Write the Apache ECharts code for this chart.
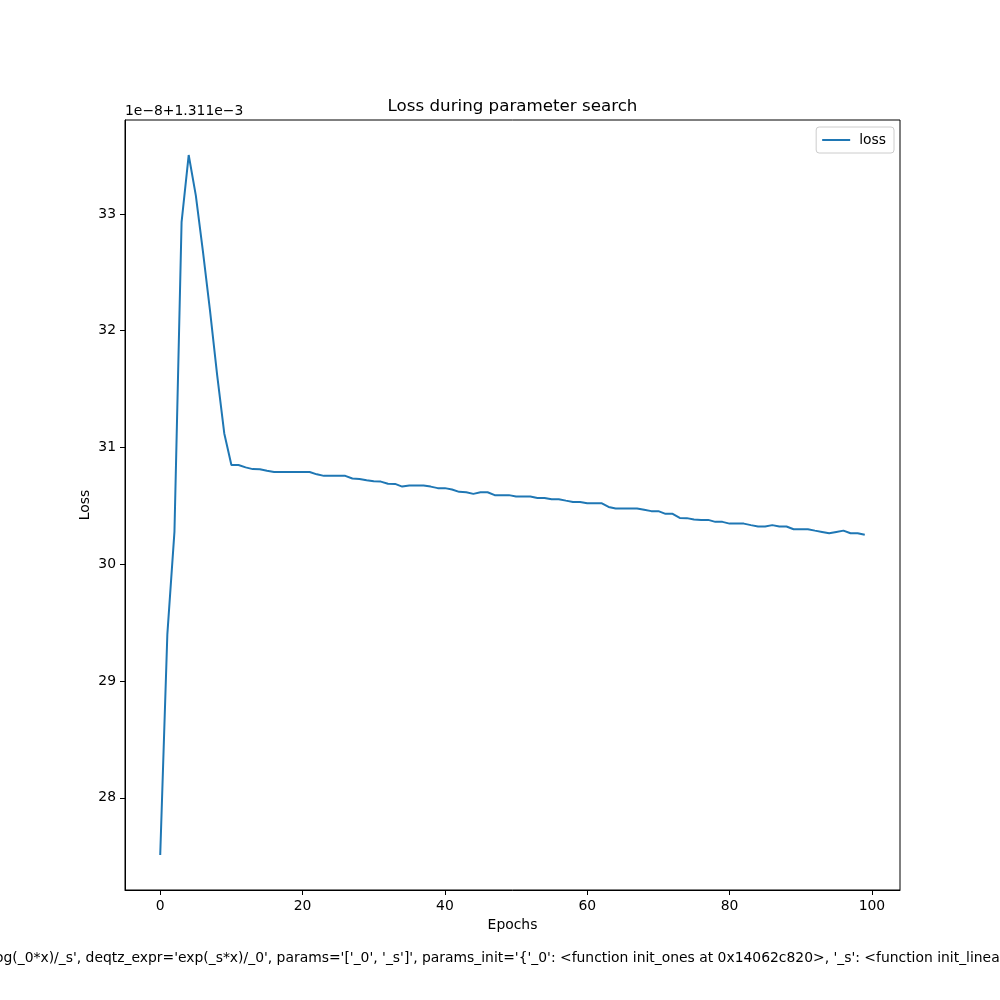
<!DOCTYPE html>
<html>
<head>
<meta charset="utf-8">
<script src="https://cdn.jsdelivr.net/npm/echarts@6/dist/echarts.min.js"></script>
<style>html,body{margin:0;padding:0;background:#fff}#c{width:1000px;height:1000px}</style>
</head>
<body>
<div id="c"></div>
<script>
// Loss values, shown as offset: value = 1.311e-3 + v * 1e-8
const lossValues = [
  27.51, 29.40, 30.28, 32.93, 33.505, 33.16, 32.68, 32.17, 31.62, 31.12,
  30.85, 30.85, 30.83, 30.815, 30.813, 30.80, 30.79, 30.79, 30.79, 30.79,
  30.79, 30.79, 30.77, 30.757, 30.757, 30.757, 30.757, 30.734, 30.731, 30.72,
  30.71, 30.708, 30.69, 30.688, 30.665, 30.675, 30.675, 30.675, 30.665, 30.652,
  30.652, 30.64, 30.62, 30.617, 30.603, 30.617, 30.617, 30.592, 30.592, 30.592,
  30.58, 30.58, 30.58, 30.568, 30.568, 30.557, 30.557, 30.545, 30.534, 30.534,
  30.523, 30.523, 30.523, 30.491, 30.477, 30.477, 30.477, 30.477, 30.466, 30.455,
  30.455, 30.432, 30.432, 30.397, 30.395, 30.383, 30.38, 30.38, 30.363, 30.363,
  30.348, 30.348, 30.348, 30.335, 30.323, 30.323, 30.335, 30.323, 30.323, 30.30,
  30.30, 30.30, 30.288, 30.277, 30.266, 30.277, 30.288, 30.266, 30.266, 30.252
];
const xTicks = [0, 20, 40, 60, 80, 100];
const yTicks = [28, 29, 30, 31, 32, 33];
const titleText = 'Loss during parameter search';
const offsetText = '1e\u22128+1.311e\u22123';
const xName = 'Epochs';
const yName = 'Loss';
const seriesName = 'loss';
const footerText = "og(_0*x)/_s', deqtz_expr='exp(_s*x)/_0', params='['_0', '_s']', params_init='{'_0': <function init_ones at 0x14062c820>, '_s': <function init_linear at 0x14062c8b0>}')";

const FONT = 'DejaVu Sans';
const chart = echarts.init(document.getElementById('c'), null, {renderer: 'canvas'});
const data = lossValues.map((v, i) => [i, v]);

chart.setOption({
  animation: false,
  backgroundColor: '#fff',
  textStyle: {fontFamily: FONT},
  grid: {left: 125, top: 120, width: 775, height: 770, show: true, borderColor: '#000', borderWidth: 1, backgroundColor: 'transparent'},
  legend: {
    right: 106, top: 127,
    data: [seriesName],
    icon: 'rect', itemWidth: 28, itemHeight: 2, itemGap: 10,
    padding: [6, 8, 6, 6],
    borderColor: '#cccccc', borderWidth: 1, borderRadius: 3,
    backgroundColor: 'rgba(255,255,255,0.8)',
    textStyle: {fontFamily: FONT, fontSize: 13.9, color: '#000', padding: [0, 0, 0, 4]}
  },
  xAxis: {
    type: 'value', min: -4.95, max: 103.95,
    axisLine: {show: true, onZero: false, lineStyle: {color: '#000', width: 1}},
    axisTick: {show: true, inside: false, length: 5, lineStyle: {color: '#000'}, customValues: xTicks},
    axisLabel: {show: true, margin: 9, fontSize: 13.9, color: '#000', fontFamily: FONT, customValues: xTicks},
    splitLine: {show: false}
  },
  yAxis: {
    type: 'value', min: 27.21, max: 33.805,
    axisLine: {show: true, onZero: false, lineStyle: {color: '#000', width: 1}},
    axisTick: {show: true, inside: false, length: 5, lineStyle: {color: '#000'}, customValues: yTicks},
    axisLabel: {show: true, margin: 9, fontSize: 13.9, color: '#000', fontFamily: FONT, customValues: yTicks},
    splitLine: {show: false}
  },
  series: [{
    name: seriesName, type: 'line', data: data,
    showSymbol: false, symbol: 'none',
    lineStyle: {color: '#1f77b4', width: 2},
    itemStyle: {color: '#1f77b4'}
  }],
  graphic: [
    {type: 'text', x: 512.5, y: 106.5, style: {text: titleText, font: '16.7px "DejaVu Sans"', fill: '#000', align: 'center', verticalAlign: 'middle'}},
    {type: 'text', x: 125, y: 111.5, style: {text: offsetText, font: '13.9px "DejaVu Sans"', fill: '#000', align: 'left', verticalAlign: 'middle'}},
    {type: 'text', x: 512.5, y: 925, style: {text: xName, font: '13.9px "DejaVu Sans"', fill: '#000', align: 'center', verticalAlign: 'middle'}},
    {type: 'text', x: 85, y: 505, rotation: Math.PI / 2, style: {text: yName, font: '13.9px "DejaVu Sans"', fill: '#000', align: 'center', verticalAlign: 'middle'}},
    {type: 'text', x: -5, y: 958, style: {text: footerText, font: '13.9px "DejaVu Sans"', fill: '#000', align: 'left', verticalAlign: 'middle'}}
  ]
});
</script>
</body>
</html>
